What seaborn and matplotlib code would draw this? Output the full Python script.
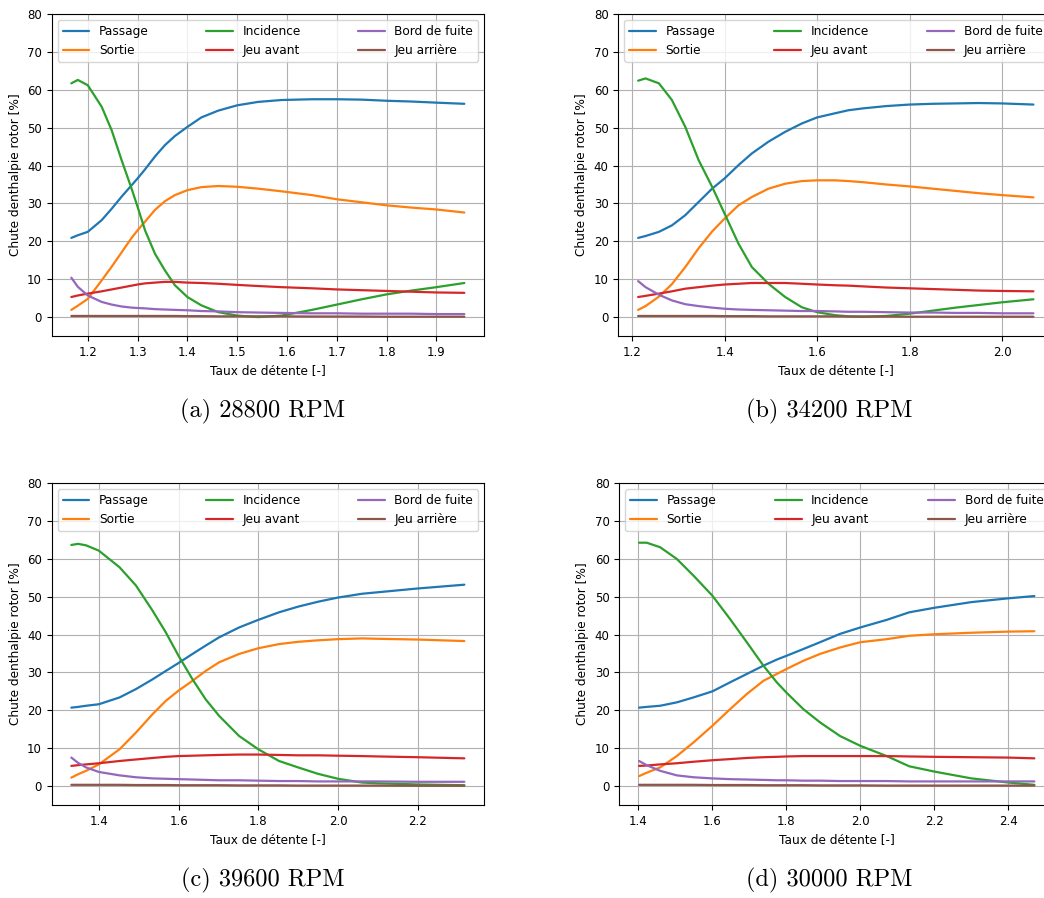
import matplotlib
matplotlib.use("Agg")
from matplotlib import pyplot as plt
from matplotlib.ticker import MultipleLocator, FormatStrFormatter
import seaborn as sns

sns.set_style("ticks", {
    "axes.grid": True,
    "grid.color": "#b0b0b0",
    "axes.edgecolor": "black",
    "xtick.color": "black",
    "ytick.color": "black",
    "text.color": "black",
    "axes.labelcolor": "black",
})
plt.rcParams.update({
    "font.family": ["DejaVu Sans"],
    "font.size": 8.7,
    "xtick.labelsize": 8.5,
    "ytick.labelsize": 8.5,
    "axes.labelsize": 8.7,
    "legend.fontsize": 8.7,
    "grid.linewidth": 0.8,
    "axes.linewidth": 0.8,
    "xtick.major.size": 3.5,
    "ytick.major.size": 3.5,
    "xtick.major.width": 0.8,
    "ytick.major.width": 0.8,
})

labels = ["Passage", "Sortie", "Incidence", "Jeu avant", "Bord de fuite", "Jeu arrière"]
palette = sns.color_palette("tab10", 6)
captions = ["(a) 28800 RPM", "(b) 34200 RPM", "(c) 39600 RPM", "(d) 30000 RPM"]

# (a) 28800 RPM
x_a = [1.167, 1.18, 1.2, 1.228, 1.248, 1.268, 1.288, 1.3, 1.315, 1.335, 1.355, 1.375, 1.4,
       1.428, 1.462, 1.5, 1.542, 1.589, 1.65, 1.7, 1.75, 1.8, 1.85, 1.9, 1.956]
passage_a = [20.9, 21.6, 22.5, 25.6, 28.6, 31.8, 34.8, 36.6, 39.0, 42.4, 45.4, 47.8, 50.2,
             52.7, 54.5, 55.9, 56.8, 57.3, 57.5, 57.5, 57.4, 57.1, 56.9, 56.6, 56.3]
sortie_a = [1.9, 3.0, 4.8, 9.7, 13.3, 17.1, 20.9, 22.9, 25.2, 28.3, 30.6, 32.2, 33.5,
            34.3, 34.6, 34.4, 33.9, 33.2, 32.2, 31.1, 30.3, 29.5, 28.9, 28.4, 27.6]
incidence_a = [61.7, 62.6, 61.2, 55.5, 49.3, 41.4, 33.9, 29.1, 22.9, 16.7, 12.3, 8.4, 5.3,
               3.1, 1.3, 0.4, 0.0, 0.4, 1.9, 3.3, 4.7, 6.0, 7.0, 7.9, 9.0]
jeu_avant_a = [5.3, 5.7, 6.2, 6.8, 7.3, 7.8, 8.3, 8.6, 8.9, 9.1, 9.3, 9.3, 9.1,
               9.0, 8.8, 8.5, 8.2, 7.9, 7.6, 7.3, 7.1, 6.9, 6.7, 6.5, 6.4]
bord_a = [10.4, 8.0, 5.7, 4.0, 3.3, 2.8, 2.5, 2.4, 2.3, 2.1, 2.0, 1.9, 1.8,
          1.6, 1.5, 1.3, 1.2, 1.1, 1.0, 1.0, 0.9, 0.9, 0.9, 0.8, 0.8]
jeu_arriere_a = [0.3, 0.3, 0.3, 0.3, 0.3, 0.3, 0.3, 0.3, 0.3, 0.3, 0.3, 0.3, 0.25,
                 0.25, 0.2, 0.2, 0.2, 0.2, 0.15, 0.15, 0.15, 0.1, 0.1, 0.1, 0.1]

# (b) 34200 RPM
x_b = [1.213, 1.229, 1.258, 1.286, 1.315, 1.344, 1.373, 1.4, 1.43, 1.459, 1.495, 1.531,
       1.567, 1.6, 1.639, 1.668, 1.7, 1.75, 1.8, 1.85, 1.9, 1.95, 2.0, 2.068]
passage_b = [20.9, 21.4, 22.5, 24.2, 26.9, 30.4, 33.9, 36.6, 40.1, 43.2, 46.3, 48.9,
             51.1, 52.7, 53.8, 54.6, 55.1, 55.7, 56.1, 56.3, 56.4, 56.5, 56.4, 56.1]
sortie_b = [1.9, 2.9, 5.4, 8.7, 13.2, 18.2, 22.6, 26.0, 29.5, 31.7, 33.9, 35.2,
            35.9, 36.1, 36.1, 35.9, 35.6, 35.0, 34.5, 33.9, 33.3, 32.7, 32.2, 31.6]
incidence_b = [62.4, 63.0, 61.7, 57.3, 50.2, 41.4, 34.4, 27.3, 19.4, 13.2, 8.8, 5.3,
               2.6, 1.3, 0.5, 0.2, 0.1, 0.3, 0.9, 1.7, 2.5, 3.2, 3.9, 4.7]
jeu_avant_b = [5.3, 5.6, 6.2, 6.8, 7.5, 7.9, 8.3, 8.6, 8.8, 9.0, 9.0, 9.0,
               8.8, 8.6, 8.4, 8.3, 8.1, 7.8, 7.6, 7.4, 7.2, 7.0, 6.9, 6.8]
bord_b = [9.5, 7.9, 5.9, 4.4, 3.4, 2.9, 2.5, 2.2, 2.0, 1.9, 1.8, 1.7,
          1.6, 1.6, 1.5, 1.4, 1.4, 1.3, 1.2, 1.2, 1.1, 1.1, 1.0, 1.0]
jeu_arriere_b = [0.3, 0.3, 0.3, 0.3, 0.3, 0.3, 0.3, 0.25, 0.25, 0.25, 0.2, 0.2,
                 0.2, 0.2, 0.2, 0.15, 0.15, 0.15, 0.1, 0.1, 0.1, 0.1, 0.1, 0.1]

# (c) 39600 RPM
x_c = [1.331, 1.348, 1.368, 1.4, 1.452, 1.493, 1.535, 1.568, 1.6, 1.635, 1.668, 1.702,
       1.752, 1.8, 1.852, 1.9, 1.95, 2.0, 2.06, 2.1, 2.2, 2.317]
passage_c = [20.7, 20.9, 21.2, 21.6, 23.4, 25.6, 28.2, 30.4, 32.5, 34.9, 37.1, 39.3,
             41.9, 43.9, 45.9, 47.4, 48.7, 49.8, 50.8, 51.2, 52.2, 53.2]
sortie_c = [2.2, 3.1, 4.0, 5.7, 9.7, 14.1, 19.0, 22.5, 25.2, 27.8, 30.4, 32.7,
            34.9, 36.4, 37.5, 38.1, 38.5, 38.8, 39.0, 38.9, 38.7, 38.3]
incidence_c = [63.7, 64.0, 63.6, 62.2, 57.8, 53.0, 46.3, 40.6, 34.4, 28.2, 22.9, 18.5,
               13.2, 9.7, 6.6, 4.9, 3.2, 1.9, 0.9, 0.7, 0.4, 0.2]
jeu_avant_c = [5.3, 5.5, 5.7, 6.0, 6.6, 7.0, 7.4, 7.7, 7.9, 8.0, 8.1, 8.2,
               8.3, 8.3, 8.2, 8.1, 8.1, 8.0, 7.9, 7.8, 7.6, 7.3]
bord_c = [7.5, 6.1, 4.9, 3.7, 2.8, 2.3, 2.0, 1.9, 1.8, 1.7, 1.6, 1.5,
          1.5, 1.4, 1.3, 1.3, 1.2, 1.2, 1.2, 1.2, 1.1, 1.1]
jeu_arriere_c = [0.3, 0.3, 0.3, 0.3, 0.3, 0.25, 0.25, 0.25, 0.2, 0.2, 0.2, 0.2,
                 0.15, 0.15, 0.15, 0.1, 0.1, 0.1, 0.1, 0.1, 0.05, 0.05]

# (d) 30000 RPM
x_d = [1.402, 1.4225, 1.459, 1.504, 1.549, 1.6, 1.648, 1.693, 1.738, 1.774, 1.8, 1.846,
       1.891, 1.945, 2.0, 2.071, 2.132, 2.2, 2.3, 2.4, 2.47]
passage_d = [20.7, 20.9, 21.2, 22.1, 23.4, 25.0, 27.4, 29.6, 31.8, 33.4, 34.4, 36.2,
             38.0, 40.2, 41.9, 43.9, 45.9, 47.1, 48.6, 49.6, 50.2]
sortie_d = [2.6, 3.5, 4.9, 7.9, 11.5, 15.9, 20.3, 24.3, 27.8, 29.6, 30.9, 33.1,
            34.9, 36.6, 38.0, 38.8, 39.7, 40.1, 40.5, 40.8, 40.9]
incidence_d = [64.3, 64.3, 63.1, 60.0, 55.6, 50.3, 44.1, 38.0, 31.8, 27.4, 24.7, 20.3,
               16.8, 13.2, 10.6, 7.9, 5.2, 3.8, 2.0, 0.9, 0.3]
jeu_avant_d = [5.3, 5.4, 5.7, 6.0, 6.4, 6.8, 7.1, 7.4, 7.6, 7.7, 7.8, 7.9,
               7.9, 7.9, 7.9, 7.9, 7.8, 7.7, 7.6, 7.5, 7.3]
bord_d = [6.6, 5.5, 4.0, 2.8, 2.3, 2.0, 1.8, 1.7, 1.6, 1.5, 1.5, 1.4,
          1.4, 1.3, 1.3, 1.3, 1.2, 1.2, 1.2, 1.2, 1.2]
jeu_arriere_d = [0.3, 0.3, 0.3, 0.3, 0.3, 0.25, 0.25, 0.25, 0.2, 0.2, 0.2, 0.2,
                 0.15, 0.15, 0.15, 0.1, 0.1, 0.1, 0.1, 0.1, 0.1]

panels = [
    (x_a, [passage_a, sortie_a, incidence_a, jeu_avant_a, bord_a, jeu_arriere_a], 0.1),
    (x_b, [passage_b, sortie_b, incidence_b, jeu_avant_b, bord_b, jeu_arriere_b], 0.2),
    (x_c, [passage_c, sortie_c, incidence_c, jeu_avant_c, bord_c, jeu_arriere_c], 0.2),
    (x_d, [passage_d, sortie_d, incidence_d, jeu_avant_d, bord_d, jeu_arriere_d], 0.2),
]

# axes boxes in figure fraction (right-hand panels run slightly off the page)
boxes = [
    [0.0495, 0.6258, 0.4141, 0.3586],
    [0.5923, 0.6258, 0.4165, 0.3586],
    [0.0495, 0.1037, 0.4141, 0.3581],
    [0.5932, 0.1037, 0.4165, 0.3581],
]
caption_pos = [(0.2516, 0.5423), (0.7945, 0.5423), (0.2516, 0.0200), (0.7945, 0.0200)]

fig = plt.figure(figsize=(10.44, 8.98), dpi=100)

for (x, series, step), box, cap, (cx, cy) in zip(panels, boxes, captions, caption_pos):
    ax = fig.add_axes(box)
    for y, name, color in zip(series, labels, palette):
        sns.lineplot(x=x, y=y, ax=ax, color=color, linewidth=1.6, label=name)
    ax.set_ylim(-5, 80)
    ax.yaxis.set_major_locator(MultipleLocator(10))
    ax.xaxis.set_major_locator(MultipleLocator(step))
    ax.xaxis.set_major_formatter(FormatStrFormatter("%.1f"))
    ax.set_xlabel("Taux de détente [-]")
    ax.set_ylabel("Chute denthalpie rotor [%]")
    ax.legend(loc="upper left", ncol=3, mode="expand", framealpha=0.8,
              edgecolor="#cccccc", fancybox=True, handlelength=2.2)
    fig.text(cx, cy, cap, family="cmr10", fontsize=17.5, ha="center", va="center")

fig.savefig("out.png", dpi=100)
